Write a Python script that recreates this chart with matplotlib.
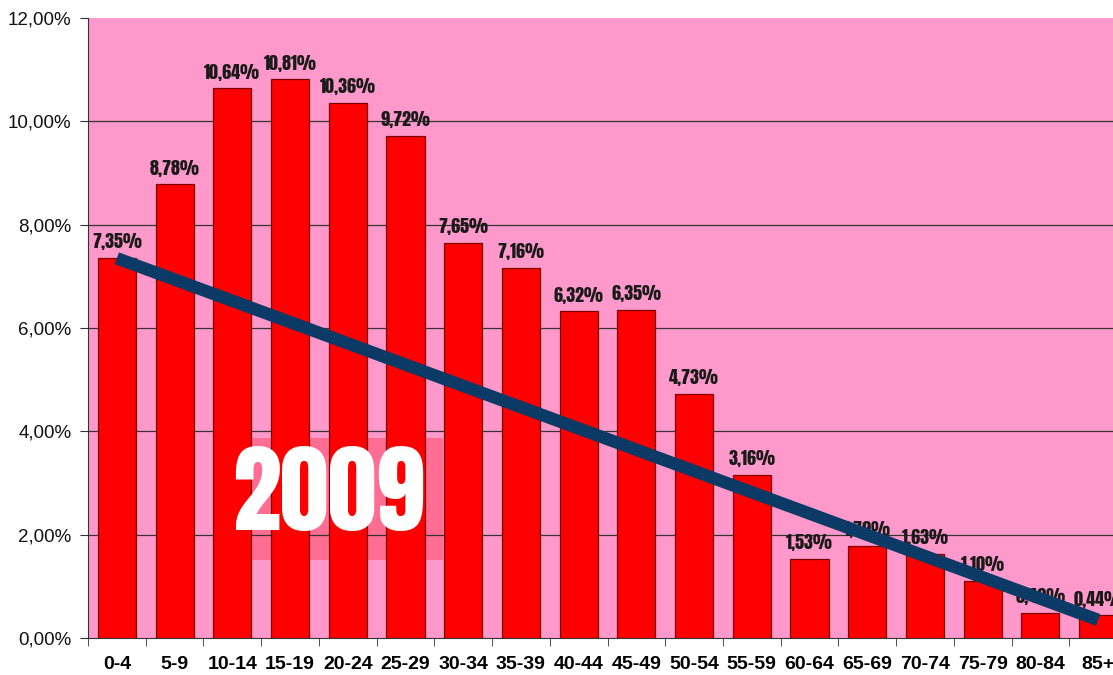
import matplotlib
matplotlib.use("Agg")
import matplotlib.pyplot as plt
from matplotlib.patches import Rectangle
from matplotlib.ticker import FixedLocator, FuncFormatter

# age groups and their share of the population (%)
groups = ["0-4", "5-9", "10-14", "15-19", "20-24", "25-29", "30-34", "35-39",
          "40-44", "45-49", "50-54", "55-59", "60-64", "65-69", "70-74",
          "75-79", "80-84", "85+"]
shares = [7.35, 8.78, 10.64, 10.81, 10.36, 9.72, 7.65, 7.16, 6.32, 6.35,
          4.73, 3.16, 1.53, 1.79, 1.63, 1.10, 0.49, 0.44]
yticks = [0, 2, 4, 6, 8, 10, 12]
year = "2009"
# hand-drawn trend line end points (category index, value)
trend_x = [0, 17]
trend_y = [7.35, 0.35]

impact = ["Anton", "Oswald", "Open Sans Condensed", "DejaVu Sans"]
plain = ["Liberation Sans", "DejaVu Sans"]

W, H = 1113, 675
fig = plt.figure(figsize=(W / 100, H / 100), dpi=100)
ax = fig.add_axes([88 / W, 37 / H, 1039 / W, 620 / H])
ax.set_facecolor("#ff99cc")

x = list(range(len(groups)))
ax.bar(x, shares, width=0.66, color="#ff0000", edgecolor="#7a0000",
       linewidth=0.9, zorder=3)

for xi, v in zip(x, shares):
    ax.text(xi, v + 0.15, f"{v:.2f}%".replace(".", ","), ha="center",
            va="bottom", fontsize=13, family=impact,
            color="#1a1a1a", zorder=4)

ax.plot(trend_x, trend_y, color="#0b3a66", linewidth=9,
        solid_capstyle="butt", zorder=5)

# translucent box behind the year
ax.add_patch(Rectangle((2.31, 1.51), 3.34, 2.36, facecolor="#ff6688",
                       edgecolor="none", alpha=0.85, zorder=1))
ax.text(3.66, 2.78, year, ha="center", va="center", fontsize=70,
        family=impact, color="white", zorder=6)

ax.set_xlim(-0.5, len(groups) - 0.5)
ax.set_ylim(0, 12)
ax.yaxis.set_major_locator(FixedLocator(yticks))
ax.yaxis.set_major_formatter(FuncFormatter(lambda v, p: f"{v:.2f}%".replace(".", ",")))
for t in yticks[1:-1]:
    ax.axhline(t, color="#333333", linewidth=0.9, zorder=2)

ax.set_xticks(x)
ax.set_xticklabels(groups)
ax.set_xticks([i - 0.5 for i in x] + [len(groups) - 0.5], minor=True)
ax.tick_params(axis="x", which="major", length=0, pad=13)
ax.tick_params(axis="x", which="minor", length=6, color="#333333")
ax.tick_params(axis="y", length=6, color="#333333", pad=6)
for lab in ax.get_xticklabels():
    lab.set_fontsize(14)
    lab.set_fontweight("bold")
    lab.set_family(plain)
for lab in ax.get_yticklabels():
    lab.set_fontsize(13.5)
    lab.set_family(plain)
    lab.set_color("#111111")

for s in ["top", "right"]:
    ax.spines[s].set_visible(False)
ax.spines["left"].set_color("#333333")
ax.spines["bottom"].set_color("#333333")

fig.savefig("out.png", dpi=100)
